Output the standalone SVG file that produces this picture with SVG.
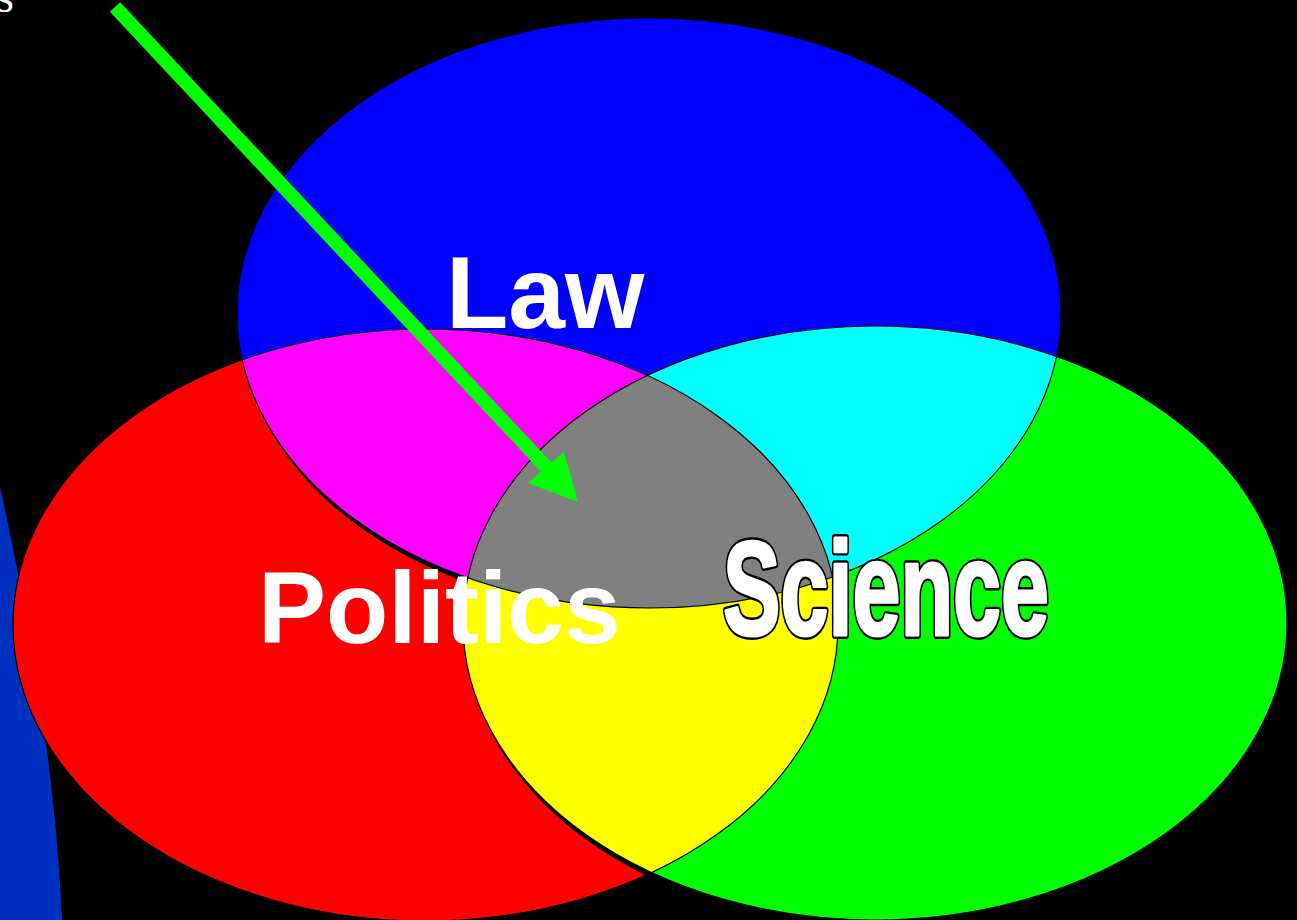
<svg xmlns="http://www.w3.org/2000/svg" width="1297" height="920" viewBox="0 0 1297 920">
  <style>
    .outline { fill: none; stroke: #000; stroke-width: 1.2; }
    .label { font-family: "Liberation Sans", Arial, sans-serif; font-weight: bold; fill: #fff; }
    .science-edge { font-family: "Liberation Sans", Arial, sans-serif; font-weight: bold; fill: #000; stroke: #000; stroke-width: 8; stroke-linejoin: round; }
    .science-face { font-family: "Liberation Sans", Arial, sans-serif; font-weight: bold; fill: #fff; stroke: #fff; stroke-width: 3.2; stroke-linejoin: round; }
  </style>
  <defs>
    <ellipse id="eLaw" cx="649" cy="313" rx="412" ry="295"/>
    <ellipse id="ePol" cx="425.5" cy="625" rx="412.5" ry="296"/>
    <ellipse id="eSci" cx="875" cy="623" rx="412" ry="297"/>
    <clipPath id="cLaw"><use href="#eLaw"/></clipPath>
    <clipPath id="cSci"><use href="#eSci"/></clipPath>
    <!-- red piece is cut back slightly, leaving thin dark seams -->
    <mask id="mPol" maskUnits="userSpaceOnUse" x="0" y="0" width="1297" height="920">
      <use href="#ePol" fill="#fff"/>
      <use href="#eLaw" fill="#000" transform="translate(3,6)"/>
      <use href="#eSci" fill="#000" transform="translate(3,7)"/>
    </mask>
  </defs>

  <!-- background -->
  <rect width="1297" height="920" fill="#000"/>

  <!-- partial caption at the top edge -->
  <text x="-4" y="12" font-family="'Liberation Serif', 'Times New Roman', serif" font-size="46" fill="#fff">s</text>

  <!-- dark blue band at the left edge -->
  <path d="M0,487 C25,600 55,760 62,920 L0,920 Z" fill="#0030C0"/>

  <!-- Law -->
  <g id="law">
    <use href="#eLaw" fill="#0000FF"/>
  </g>

  <!-- Science -->
  <g id="science">
    <use href="#eSci" fill="#00FF00"/>
  </g>

  <!-- Politics -->
  <g id="politics">
    <use href="#ePol" fill="#FF0000" mask="url(#mPol)"/>
  </g>

  <!-- overlaps -->
  <g id="law-politics">
    <use href="#ePol" fill="#FF00FF" clip-path="url(#cLaw)"/>
  </g>
  <g id="law-science">
    <use href="#eSci" fill="#00FFFF" clip-path="url(#cLaw)"/>
  </g>
  <g id="politics-science">
    <use href="#ePol" fill="#FFFF00" clip-path="url(#cSci)"/>
  </g>
  <g id="all-three" clip-path="url(#cSci)">
    <use href="#ePol" fill="#808080" clip-path="url(#cLaw)"/>
  </g>

  <!-- ellipse outlines -->
  <g id="outlines">
    <use href="#eLaw" class="outline"/>
    <use href="#eSci" class="outline"/>
    <use href="#ePol" class="outline"/>
  </g>

  <!-- labels -->
  <g id="labels">
    <text class="label" x="446" y="328" font-size="102">Law</text>
    <text class="label" x="258" y="643" font-size="102">Politics</text>
    <g id="science-label">
      <text class="science-edge" x="723" y="635" font-size="133" textLength="326" lengthAdjust="spacingAndGlyphs">Science</text>
      <text class="science-face" x="723" y="635" font-size="133" textLength="326" lengthAdjust="spacingAndGlyphs">Science</text>
    </g>
  </g>

  <!-- connectors -->
  <g id="connectors">
    <line x1="115" y1="7" x2="548" y2="469" stroke="#00FF00" stroke-width="14"/>
    <polygon points="578,502 564,452 528,483" fill="#00FF00"/>
  </g>
</svg>
